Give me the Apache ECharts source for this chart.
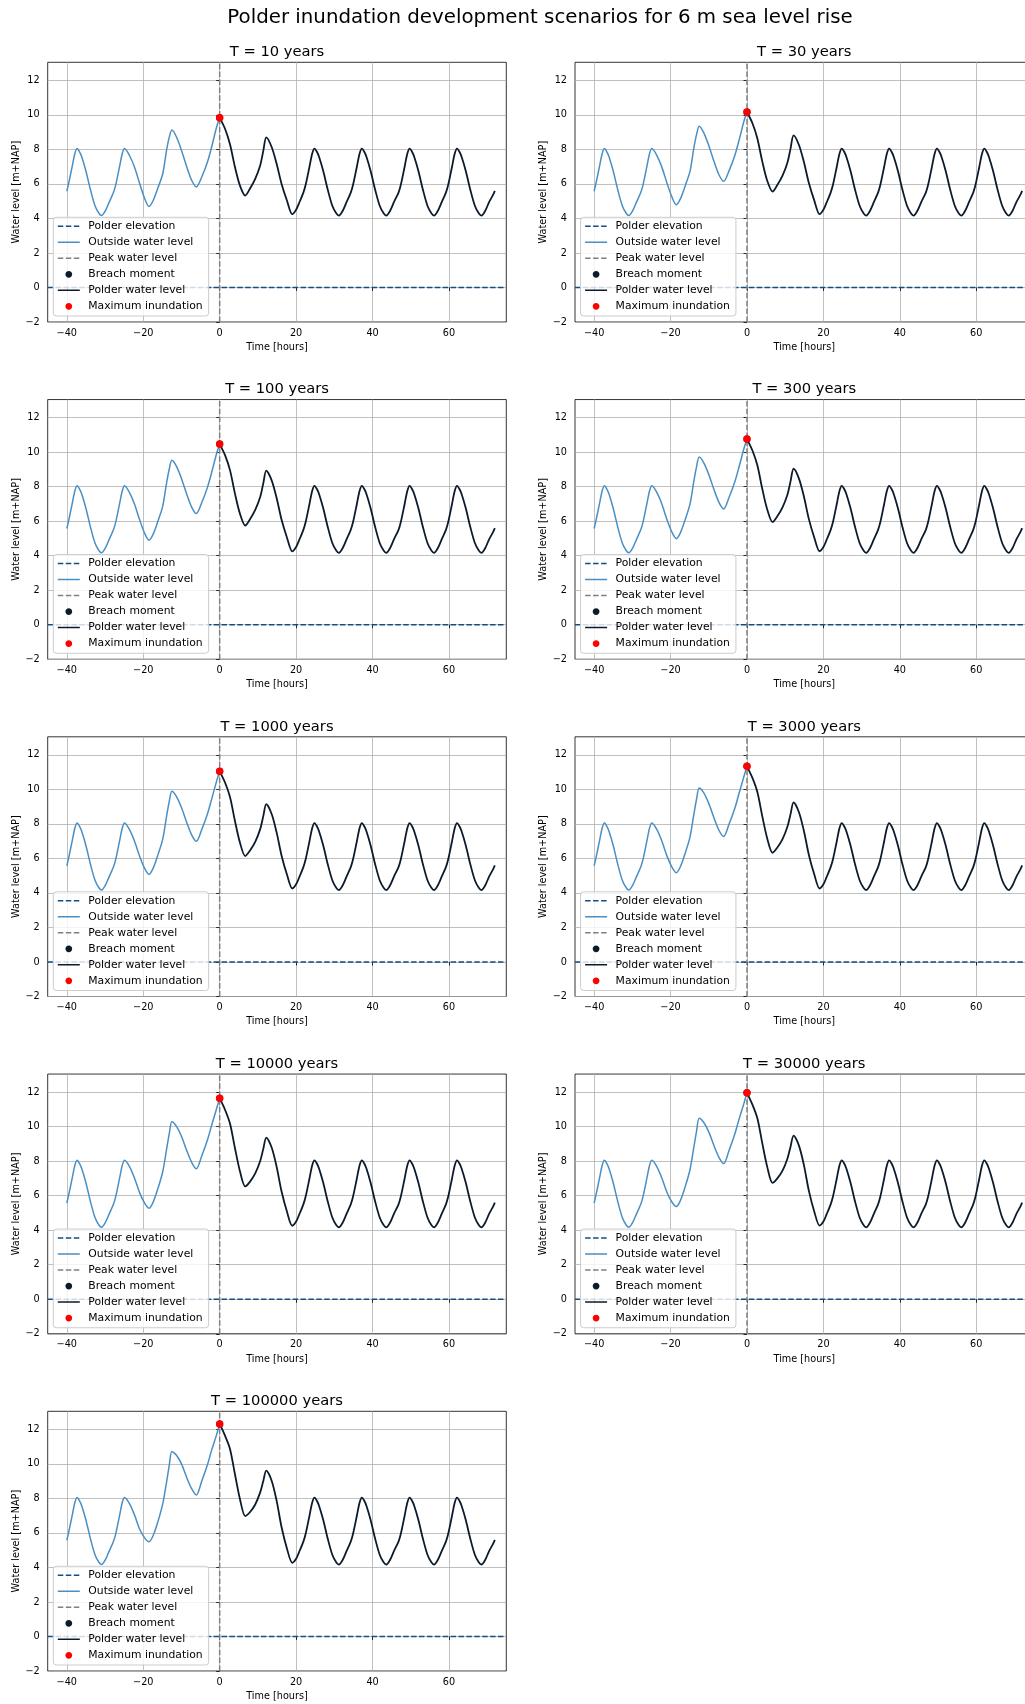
<!DOCTYPE html>
<html>
<head>
<meta charset="utf-8">
<script src="https://cdn.jsdelivr.net/npm/echarts@6/dist/echarts.min.js"></script>
<style>
html,body{margin:0;padding:0;overflow:hidden;background:#fff;}
#chart{width:1060px;height:1704px;}
</style>
</head>
<body>
<div id="chart"></div>
<script>
// ---------------- DATA ----------------
const suptitle = 'Polder inundation development scenarios for 6 m sea level rise';
const returnPeriods = [10, 30, 100, 300, 1000, 3000, 10000, 30000, 100000];
const xTicks = [-40, -20, 0, 20, 40, 60];
const yTicks = [-2, 0, 2, 4, 6, 8, 10, 12];
const xLimits = [-45, 75];
const yLimits = [-2, 13.05];
const polderElevation = 0;

// Outside water level before the surge (same in every panel)
const earlyHours = [-40.0, -39.6, -38.6, -37.9, -37.3, -36.7, -36.1, -35.0, -33.8, -32.6, -31.6, -30.9, -29.9, -28.9, -27.8, -27.2, -26.2, -25.5, -24.9];
const earlyOutside = [5.58, 5.95, 7.00, 7.75, 8.05, 7.88, 7.58, 6.75, 5.65, 4.72, 4.30, 4.17, 4.45, 4.95, 5.50, 5.95, 7.00, 7.75, 8.05];

// Outside water level during the surge, up to the breach (t = 0)
const surgeOutHours = [-23.6, -22.3, -20.9, -19.6, -18.5, -17.4, -16.1, -14.9, -13.9, -13.2, -12.5, -11.3, -10.0, -8.6, -7.3, -6.1, -4.7, -3.2, -2.1, -0.8, 0];
const outsideT10     = [7.65, 6.98, 6.00, 5.14, 4.69, 5.04, 5.81, 6.59, 7.95, 8.70, 9.12, 8.72, 7.95, 6.98, 6.20, 5.83, 6.40, 7.27, 8.14, 9.30, 9.83];
const outsideT30     = [7.66, 6.99, 6.03, 5.22, 4.80, 5.15, 5.93, 6.74, 8.09, 8.86, 9.34, 8.96, 8.23, 7.28, 6.52, 6.15, 6.76, 7.64, 8.50, 9.63, 10.17];
const outsideT100    = [7.66, 7.00, 6.05, 5.28, 4.90, 5.25, 6.04, 6.87, 8.21, 9.01, 9.53, 9.18, 8.48, 7.55, 6.80, 6.44, 7.07, 7.96, 8.82, 9.92, 10.47];
const outsideT300    = [7.67, 7.01, 6.07, 5.35, 4.99, 5.34, 6.14, 7.00, 8.32, 9.15, 9.72, 9.38, 8.71, 7.81, 7.08, 6.71, 7.37, 8.27, 9.13, 10.20, 10.76];
const outsideT1000   = [7.67, 7.01, 6.10, 5.41, 5.08, 5.44, 6.25, 7.12, 8.44, 9.29, 9.90, 9.59, 8.95, 8.07, 7.35, 6.99, 7.67, 8.58, 9.44, 10.48, 11.05];
const outsideT3000   = [7.68, 7.02, 6.12, 5.48, 5.17, 5.53, 6.35, 7.25, 8.56, 9.43, 10.09, 9.80, 9.19, 8.33, 7.62, 7.27, 7.98, 8.89, 9.75, 10.75, 11.34];
const outsideT10000  = [7.69, 7.03, 6.15, 5.55, 5.27, 5.63, 6.46, 7.39, 8.68, 9.58, 10.29, 10.02, 9.45, 8.60, 7.92, 7.56, 8.30, 9.23, 10.08, 11.05, 11.65];
const outsideT30000  = [7.69, 7.04, 6.17, 5.62, 5.37, 5.73, 6.57, 7.52, 8.81, 9.73, 10.49, 10.24, 9.70, 8.88, 8.21, 7.86, 8.62, 9.56, 10.41, 11.35, 11.96];
const outsideT100000 = [7.70, 7.05, 6.20, 5.70, 5.49, 5.85, 6.70, 7.68, 8.95, 9.90, 10.72, 10.50, 10.00, 9.20, 8.55, 8.20, 9.00, 9.95, 10.80, 11.70, 12.32];

// Polder water level after the breach, surge-affected part
const polderSurgeHours = [0, 1.4, 2.7, 4.0, 5.3, 6.7, 7.9, 9.3, 10.6, 11.4, 12.2, 13.6, 14.9, 16.2, 17.6, 19.0];
const polderT10     = [9.83, 9.20, 8.30, 6.98, 5.91, 5.33, 5.72, 6.30, 7.07, 7.90, 8.70, 8.14, 7.17, 6.00, 5.04, 4.25];
const polderT30     = [10.17, 9.53, 8.65, 7.31, 6.19, 5.56, 5.92, 6.48, 7.25, 8.05, 8.82, 8.26, 7.27, 6.05, 5.05, 4.25];
const polderT100    = [10.47, 9.83, 8.96, 7.60, 6.44, 5.75, 6.10, 6.65, 7.40, 8.18, 8.93, 8.37, 7.35, 6.08, 5.06, 4.25];
const polderT300    = [10.76, 10.11, 9.26, 7.88, 6.68, 5.95, 6.27, 6.80, 7.55, 8.31, 9.04, 8.47, 7.43, 6.12, 5.06, 4.26];
const polderT1000   = [11.05, 10.40, 9.56, 8.17, 6.92, 6.14, 6.45, 6.96, 7.70, 8.44, 9.15, 8.58, 7.51, 6.16, 5.07, 4.26];
const polderT3000   = [11.34, 10.68, 9.86, 8.45, 7.16, 6.33, 6.62, 7.12, 7.85, 8.57, 9.25, 8.68, 7.59, 6.20, 5.08, 4.26];
const polderT10000  = [11.65, 10.98, 10.18, 8.75, 7.42, 6.54, 6.80, 7.29, 8.01, 8.70, 9.37, 8.79, 7.68, 6.24, 5.08, 4.26];
const polderT30000  = [11.96, 11.29, 10.50, 9.05, 7.67, 6.74, 6.99, 7.45, 8.16, 8.84, 9.48, 8.90, 7.77, 6.28, 5.09, 4.27];
const polderT100000 = [12.32, 11.64, 10.87, 9.40, 7.97, 6.98, 7.20, 7.65, 8.35, 9.00, 9.61, 9.03, 7.87, 6.33, 5.10, 4.27];

// Polder water level, tidal tail (same in every panel)
const lateHours = [20.0, 20.8, 21.9, 22.5, 23.5, 24.2, 24.8, 25.4, 26.0, 27.1, 28.3, 29.5, 30.5, 31.2, 32.2, 33.2, 34.3, 34.9, 35.9, 36.6, 37.2, 37.8, 38.4, 39.5, 40.7, 41.9, 42.9, 43.6, 44.6, 45.6, 46.8, 47.4, 48.4, 49.1, 49.7, 50.3, 50.9, 52.0, 53.2, 54.4, 55.4, 56.1, 57.1, 58.1, 59.2, 59.8, 60.8, 61.5, 62.1, 62.7, 63.3, 64.4, 65.6, 66.8, 67.8, 68.5, 69.5, 70.5, 71.5, 72.0];
const lateLevels = [4.50, 4.90, 5.50, 5.95, 7.00, 7.75, 8.05, 7.88, 7.58, 6.75, 5.65, 4.72, 4.30, 4.17, 4.45, 4.95, 5.50, 5.95, 7.00, 7.75, 8.05, 7.88, 7.58, 6.75, 5.65, 4.72, 4.30, 4.17, 4.45, 4.95, 5.50, 5.95, 7.00, 7.75, 8.05, 7.88, 7.58, 6.75, 5.65, 4.72, 4.30, 4.17, 4.45, 4.95, 5.50, 5.95, 7.00, 7.75, 8.05, 7.88, 7.58, 6.75, 5.65, 4.72, 4.30, 4.17, 4.45, 4.95, 5.35, 5.60];

// Breach moment / maximum inundation level (at t = 0)
const breachHour = 0;
const peakLevels = [9.83, 10.17, 10.47, 10.76, 11.05, 11.34, 11.65, 11.96, 12.32];

const outsideSets = [outsideT10, outsideT30, outsideT100, outsideT300, outsideT1000, outsideT3000, outsideT10000, outsideT30000, outsideT100000];
const polderSets = [polderT10, polderT30, polderT100, polderT300, polderT1000, polderT3000, polderT10000, polderT30000, polderT100000];

// ---------------- STYLE / LAYOUT ----------------
const FONT = 'DejaVu Sans';
const C_ELEV = '#134d82';
const C_OUT = '#4a8fc4';
const C_PEAK = '#808080';
const C_BREACH = '#0c1b2c';
const C_POLDER = '#0c1b2c';
const C_MAX = '#ff0000';
const DASH = [5.5, 2.4];

const colLeft = [47.7, 575];
const plotW = 458.6;
const rowTop0 = 62.3;
const rowStep = 337.25;
const plotH = 259.7;

const ICON_DASH = 'path://M0,0L0,0ZM22,12L22,12ZM0,5.25L5.5,5.25L5.5,6.75L0,6.75ZM8,5.25L13.5,5.25L13.5,6.75L8,6.75ZM16,5.25L21.5,5.25L21.5,6.75L16,6.75Z';
const ICON_LINE = 'path://M0,0L0,0ZM22,12L22,12ZM0,5.25L22,5.25L22,6.75L0,6.75Z';
const ICON_DOT = 'path://M0,0L0,0ZM22,12L22,12ZM11,2.6C12.88,2.6 14.4,4.12 14.4,6C14.4,7.88 12.88,9.4 11,9.4C9.12,9.4 7.6,7.88 7.6,6C7.6,4.12 9.12,2.6 11,2.6Z';

const minusFmt = v => (v < 0 ? '\u2212' + Math.abs(v) : String(v));
const pairs = (xs, ys) => xs.map((x, i) => [x, ys[i]]);

const option = {
  animation: false,
  backgroundColor: '#ffffff',
  textStyle: { fontFamily: FONT },
  grid: [], xAxis: [], yAxis: [], series: [], legend: [],
  graphic: [{
    type: 'text', x: 540, y: 18.2, silent: true,
    style: { text: suptitle, fontSize: 19.8, fontFamily: FONT, fill: '#000',
             align: 'center', verticalAlign: 'middle', textAlign: 'center', textVerticalAlign: 'middle' }
  }]
};

returnPeriods.forEach((T, i) => {
  const col = i % 2, row = Math.floor(i / 2);
  const left = colLeft[col];
  const top = rowTop0 + row * rowStep;

  option.grid.push({
    left: left, top: top, width: plotW, height: plotH,
    show: true, borderColor: '#000', borderWidth: 0.8, backgroundColor: 'transparent',
    containLabel: false, outerBoundsMode: 'none'
  });
  option.xAxis.push({
    gridIndex: i, type: 'value', min: xLimits[0], max: xLimits[1],
    axisLine: { show: false },
    axisTick: { show: true, inside: false, length: 3.5, customValues: xTicks, lineStyle: { color: '#000', width: 0.8 } },
    axisLabel: { customValues: xTicks, margin: 6, fontSize: 9.7, color: '#000', fontFamily: FONT, formatter: minusFmt },
    splitLine: { show: true, lineStyle: { color: '#b0b0b0', width: 0.8 } },
    name: 'Time [hours]', nameLocation: 'middle', nameGap: 25.3,
    nameTextStyle: { fontSize: 9.7, color: '#000', fontFamily: FONT, verticalAlign: 'middle' }
  });
  option.yAxis.push({
    gridIndex: i, type: 'value', min: yLimits[0], max: yLimits[1],
    axisLine: { show: false },
    axisTick: { show: true, inside: false, length: 3.5, customValues: yTicks, lineStyle: { color: '#000', width: 0.8 } },
    axisLabel: { customValues: yTicks, margin: 8, fontSize: 9.7, color: '#000', fontFamily: FONT, formatter: minusFmt },
    splitLine: { show: true, lineStyle: { color: '#b0b0b0', width: 0.8 } },
    name: 'Water level [m+NAP]', nameLocation: 'middle', nameGap: 30.1,
    nameTextStyle: { fontSize: 9.7, color: '#000', fontFamily: FONT, verticalAlign: 'middle' }
  });

  const outsideData = pairs(earlyHours, earlyOutside).concat(pairs(surgeOutHours, outsideSets[i]));
  const polderData = pairs(polderSurgeHours, polderSets[i]).concat(pairs(lateHours, lateLevels));
  const peak = peakLevels[i];

  option.series.push(
    { name: 'Polder elevation', type: 'line', xAxisIndex: i, yAxisIndex: i, silent: true,
      data: [[xLimits[0], polderElevation], [xLimits[1], polderElevation]], symbol: 'none',
      color: C_ELEV, lineStyle: { color: C_ELEV, width: 1.5, type: DASH }, z: 2 },
    { name: 'Outside water level', type: 'line', xAxisIndex: i, yAxisIndex: i, silent: true,
      data: outsideData, symbol: 'none', smooth: 0.3,
      color: C_OUT, lineStyle: { color: C_OUT, width: 1.5 }, z: 2.1 },
    { name: 'Peak water level', type: 'line', xAxisIndex: i, yAxisIndex: i, silent: true,
      data: [[breachHour, yLimits[0]], [breachHour, yLimits[1]]], symbol: 'none',
      color: C_PEAK, lineStyle: { color: C_PEAK, width: 1.5, type: DASH }, z: 2.2 },
    { name: 'Breach moment', type: 'scatter', xAxisIndex: i, yAxisIndex: i, silent: true,
      data: [[breachHour, peak]], symbol: 'circle', symbolSize: 7,
      color: C_BREACH, itemStyle: { color: C_BREACH, opacity: 1 }, z: 2.3 },
    { name: 'Polder water level', type: 'line', xAxisIndex: i, yAxisIndex: i, silent: true,
      data: polderData, symbol: 'none', smooth: 0.3,
      color: C_POLDER, lineStyle: { color: C_POLDER, width: 1.8 }, z: 2.4 },
    { name: 'Maximum inundation', type: 'scatter', xAxisIndex: i, yAxisIndex: i, silent: true,
      data: [[breachHour, peak]], symbol: 'circle', symbolSize: 7.5,
      color: C_MAX, itemStyle: { color: C_MAX, opacity: 1 }, z: 2.5 }
  );

  option.legend.push({
    orient: 'vertical', left: left + 5.6, top: top + 155,
    padding: [3, 6, 3.7, 4.5], itemGap: 4, itemWidth: 22, itemHeight: 12,
    backgroundColor: 'rgba(255,255,255,0.8)', borderColor: '#cccccc', borderWidth: 1, borderRadius: 3,
    symbolKeepAspect: false, selectedMode: false, z: 10,
    itemStyle: { borderWidth: 0, opacity: 1 },
    textStyle: { fontSize: 10.8, fontFamily: FONT, color: '#000', lineHeight: 12, padding: [0, 0, 0, 3.5] },
    data: [
      { name: 'Polder elevation', icon: ICON_DASH },
      { name: 'Outside water level', icon: ICON_LINE },
      { name: 'Peak water level', icon: ICON_DASH },
      { name: 'Breach moment', icon: ICON_DOT },
      { name: 'Polder water level', icon: ICON_LINE },
      { name: 'Maximum inundation', icon: ICON_DOT }
    ]
  });

  option.graphic.push({
    type: 'text', x: left + plotW / 2, y: top - 10.1, silent: true,
    style: { text: 'T = ' + T + ' years', fontSize: 14.7, fontFamily: FONT, fill: '#000',
             align: 'center', verticalAlign: 'middle', textAlign: 'center', textVerticalAlign: 'middle' }
  });
});

const chart = echarts.init(document.getElementById('chart'), null, { renderer: 'canvas' });
chart.setOption(option);
</script>
</body>
</html>
